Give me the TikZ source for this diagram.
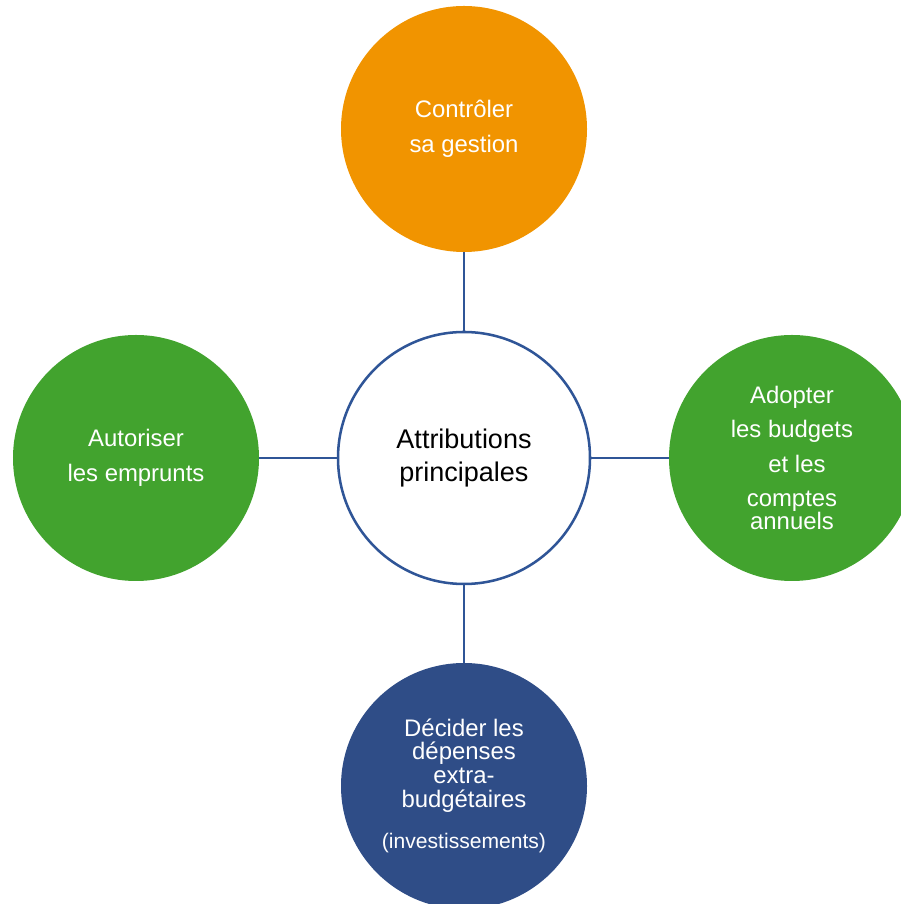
\documentclass[tikz,border=0pt]{standalone}
\usepackage{fontspec}
\setmainfont{Liberation Sans}
\usepackage{tikz}
\usepackage{xcolor}
\usetikzlibrary{positioning, calc}

\definecolor{ctrlorange}{RGB}{241,148,0}
\definecolor{attrgreen}{RGB}{66,163,46}
\definecolor{attrblue}{RGB}{47,77,135}
\definecolor{linkblue}{RGB}{47,85,151}

\begin{document}
\begin{tikzpicture}[
    bubble/.style={circle, minimum size=6.15cm, inner sep=0pt, text=white, align=center,
        font=\fontsize{17}{24.5}\selectfont},
    hub/.style={circle, draw=linkblue, line width=1.8pt, fill=white, minimum size=6.3cm,
        inner sep=0pt, align=center, font=\fontsize{19.2}{23.5}\selectfont},
    link/.style={linkblue, line width=1.4pt}]
    \clip (0,0) rectangle (22.525,22.6);
    \node[hub] (hub) at (11.6,11.15) {Attributions\\principales};
    \node[bubble, fill=ctrlorange] (ctrl) at (11.6,19.375) {Contrôler\\sa gestion};
    \node[bubble, fill=attrgreen] (loans) at (3.4,11.15) {Autoriser\\les emprunts};
    \node[bubble, fill=attrgreen] (budget) at (19.8,11.15)
        {Adopter\\les budgets\\\hspace*{0.25cm}et les\\comptes\\[-8pt]annuels};
    \node[bubble, fill=attrblue, font=\fontsize{17}{16.8}\selectfont] (invest) at (11.6,2.95)
        {Décider les\\dépenses\\extra-\\budgétaires\\[13pt]{\fontsize{15}{16.8}\selectfont (investissements)}};
    \draw[link] (hub) -- (ctrl);
    \draw[link] (hub) -- (loans);
    \draw[link] (hub) -- (budget);
    \draw[link] (hub) -- (invest);
\end{tikzpicture}
\end{document}
